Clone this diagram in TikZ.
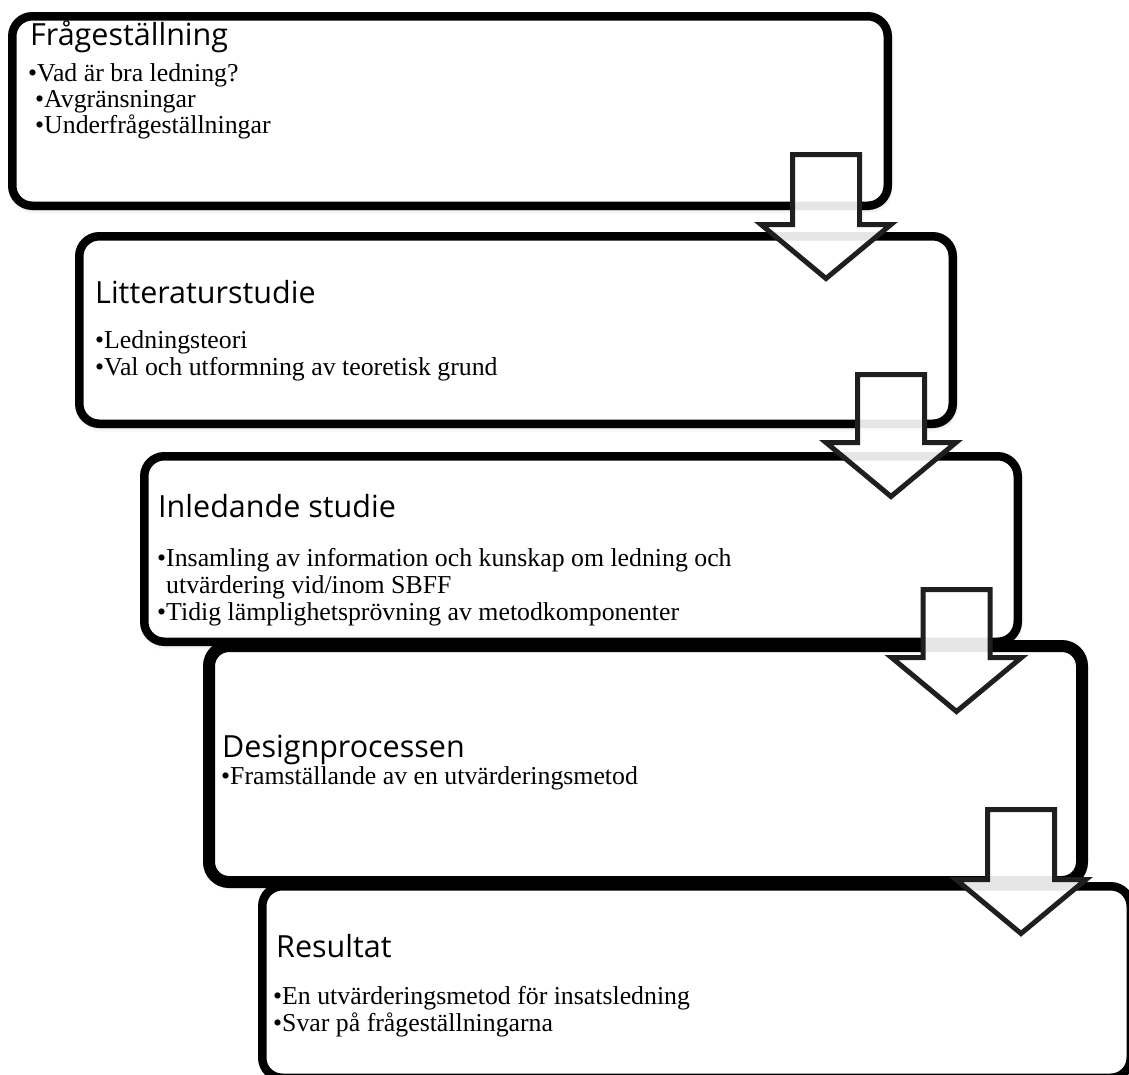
\documentclass[tikz,border=0pt]{standalone}
\usepackage{fontspec}
\setmainfont{Liberation Serif}
\newfontfamily\headfont{Open Sans}
\usetikzlibrary{shadows.blur}
\begin{document}
\begin{tikzpicture}[x=1pt,y=-1pt,
  stage/.style={draw=black, line width=8.5pt, fill=white, rounded corners=20pt,
    inner sep=0pt, outer sep=0pt,
    blur shadow={shadow xshift=1pt, shadow yshift=-3pt, shadow blur radius=5pt, shadow opacity=30}},
  heavystage/.style={stage, line width=12pt},
  head/.style={anchor=base west, inner sep=0pt, font=\headfont\fontsize{30.5}{36}\selectfont},
  item/.style={anchor=base west, inner sep=0pt, font=\fontsize{25.8}{30}\selectfont},
  flow/.style={draw=black!88, line width=5pt, fill=white, fill opacity=0.9, miter limit=10}
]
\useasboundingbox (0,0) rectangle (1129,1074);

% stage boxes (centre, width, height of the stroke centre line)
\node[stage, minimum width=875.5, minimum height=189.5] (s1) at (450,111) {};
\node[stage, minimum width=873.5, minimum height=187.5] (s2) at (516,330) {};
\node[stage, minimum width=873.5, minimum height=185.5] (s3) at (581,549) {};
\node[heavystage, minimum width=873, minimum height=236] (s4) at (645.5,764) {};
\node[stage, minimum width=868.5, minimum height=191.5] (s5) at (696.5,982) {};

% texts
\node[head] (t1) at (30,45) {Frågeställning};
\node[item] (b11) at (28,81) {•Vad är bra ledning?};
\node[item] (b12) at (35,107) {•Avgränsningar};
\node[item] (b13) at (35,133) {•Underfrågeställningar};

\node[head] (t2) at (95,303) {Litteraturstudie};
\node[item] (b21) at (95,348) {•Ledningsteori};
\node[item] (b22) at (95,375) {•Val och utformning av teoretisk grund};

\node[head] (t3) at (158,517) {Inledande studie};
\node[item] (b31) at (157,566) {•Insamling av information och kunskap om ledning och};
\node[item] (b32) at (166,593) {utvärdering vid/inom SBFF};
\node[item] (b33) at (157,620) {•Tidig lämplighetsprövning av metodkomponenter};

\node[head] (t4) at (222,757) {Designprocessen};
\node[item] (b41) at (221,784) {•Framställande av en utvärderingsmetod};

\node[head] (t5) at (276,957) {Resultat};
\node[item] (b51) at (273,1004) {•En utvärderingsmetod för insatsledning};
\node[item] (b52) at (273,1031) {•Svar på frågeställningarna};

% block arrows between the stages
\newcommand\stagearrow[3]{% centre x, shaft top, head base
  \draw[flow] (#1-33.5,#2) -- (#1+33.5,#2) -- (#1+33.5,#3) -- (#1+65,#3)
    -- (#1,#3+54) -- (#1-65,#3) -- (#1-33.5,#3) -- cycle;}
\stagearrow{826}{154.5}{224.5}
\stagearrow{891}{374.5}{442.5}
\stagearrow{956.5}{589.5}{657.5}
\stagearrow{1021}{809.5}{879.5}
\end{tikzpicture}
\end{document}
